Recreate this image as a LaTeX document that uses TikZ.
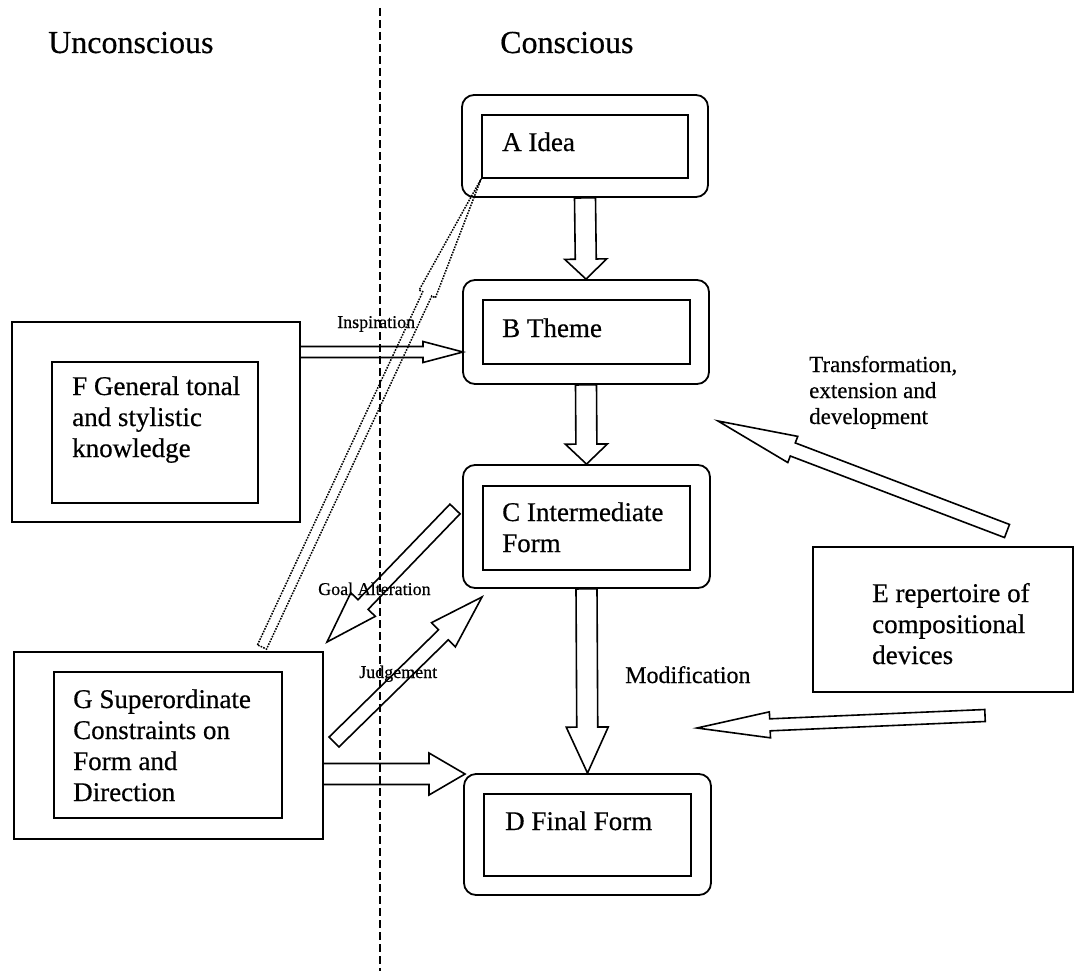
\documentclass[tikz,border=0pt]{standalone}
\usepackage{fontspec}
\setmainfont{Liberation Serif}[FakeBold=0.5]
\usetikzlibrary{calc}
\tikzset{
  outerbox/.style={draw, line width=1.8pt, rounded corners=12pt, inner sep=0pt},
  innerbox/.style={draw, line width=1.8pt, inner sep=0pt},
  plainbox/.style={draw, line width=1.6pt, inner sep=0pt},
  boxtext/.style={anchor=base west, inner sep=0pt, align=left, font=\fontsize{27}{31}\selectfont},
  heading/.style={anchor=base west, inner sep=0pt, font=\fontsize{32}{36}\selectfont},
  smalllabel/.style={anchor=base west, inner sep=0pt, font=\fontsize{18}{20}\selectfont},
  midlabel/.style={anchor=base west, inner sep=0pt, align=left, font=\fontsize{24}{26}\selectfont},
  blockarrow/.style={draw, line width=1.6pt, line join=miter},
  dottedarrow/.style={draw, line width=1.5pt, dash pattern=on 1.6pt off 1.2pt},
  divider/.style={draw, line width=1.4pt, dash pattern=on 8pt off 4pt}
}
% #1 style, #2 tail, #3 tip, #4 shaft half width, #5 head half width, #6 head length
\newcommand{\barrow}[6][blockarrow]{%
  \coordinate (ba-t) at (#2);
  \coordinate (ba-p) at (#3);
  \coordinate (ba-h) at ($(ba-p)!#6!(ba-t)$);
  \draw[#1] ($(ba-t)!#4!90:(ba-p)$) -- ($(ba-h)!#4!90:(ba-p)$) -- ($(ba-h)!#5!90:(ba-p)$)
    -- (ba-p) -- ($(ba-h)!#5!-90:(ba-p)$) -- ($(ba-h)!#4!-90:(ba-p)$)
    -- ($(ba-t)!#4!-90:(ba-p)$) -- cycle;
}
\begin{document}
\begin{tikzpicture}[x=1pt, y=-1pt]
\useasboundingbox (0,0) rectangle (1075,971);

% divider
\coordinate (divtop) at (380,8);
\coordinate (divbot) at (380,971);
\draw[divider] (divtop) -- (divbot);

% headings
\node[heading] (unc) at (48,53) {Unconscious};
\node[heading] (con) at (500,53) {Conscious};

% conscious boxes
\node[outerbox, minimum width=246pt, minimum height=102pt] (A) at (585,146) {};
\node[innerbox, minimum width=206pt, minimum height=63pt] (Ain) at (585,146.5) {};
\node[boxtext] (At) at (502,151) {A Idea};

\node[outerbox, minimum width=246pt, minimum height=104pt] (B) at (586,332) {};
\node[innerbox, minimum width=207pt, minimum height=64pt] (Bin) at (586.5,332) {};
\node[boxtext] (Bt) at (502,337) {B Theme};

\node[outerbox, minimum width=247pt, minimum height=123pt] (C) at (586.5,526.5) {};
\node[innerbox, minimum width=207pt, minimum height=84pt] (Cin) at (586.5,528) {};
\node[boxtext] (Ct) at (502,552) {C Intermediate\\Form};

\node[outerbox, minimum width=247pt, minimum height=121pt] (D) at (587.5,834.5) {};
\node[innerbox, minimum width=207pt, minimum height=82pt] (Din) at (587.5,835) {};
\node[boxtext] (Dt) at (505,830) {D Final Form};

% E
\node[plainbox, minimum width=260pt, minimum height=145pt] (E) at (943,619.5) {};
\node[boxtext] (Et) at (872,664) {E repertoire of\\compositional\\devices};

% F
\node[plainbox, minimum width=288pt, minimum height=200pt] (F) at (156,422) {};
\node[innerbox, minimum width=206pt, minimum height=141pt] (Fin) at (155,432.5) {};
\node[boxtext] (Ft) at (72,457) {F General tonal\\and stylistic\\knowledge};

% G
\node[plainbox, minimum width=309pt, minimum height=187pt] (G) at (168.5,745.5) {};
\node[innerbox, minimum width=228pt, minimum height=146pt] (Gin) at (168,745) {};
\node[boxtext] (Gt) at (73,801) {G Superordinate\\Constraints on\\Form and\\Direction};

% free ends of connectors
\coordinate (fbS) at (300,352);
\coordinate (fbE) at (463,352);
\coordinate (gdS) at (323,774);
\coordinate (gdE) at (465,774);
\coordinate (gaS) at (262,647);
\coordinate (goalS) at (455,509);
\coordinate (goalE) at (327,642);
\coordinate (judS) at (334,742);
\coordinate (judE) at (482,597);
\coordinate (trS) at (1007,531);
\coordinate (trE) at (718,421);
\coordinate (moS) at (985,715.5);
\coordinate (moE) at (697,728);

% arrows
\barrow{A.south}{B.north}{10.5pt}{21pt}{20pt}
\barrow{B.south}{C.north}{10.5pt}{21pt}{20pt}
\barrow{C.south}{D.north}{10.5pt}{21pt}{46pt}
\barrow{fbS}{fbE}{5.5pt}{10.5pt}{40pt}
\barrow{gdS}{gdE}{10.5pt}{21pt}{36pt}
\barrow[dottedarrow]{gaS}{Ain.south west}{5pt}{9pt}{127pt}
\barrow{goalS}{goalE}{7pt}{17pt}{52pt}
\barrow{judS}{judE}{7pt}{17pt}{54pt}
\barrow{trS}{trE}{7pt}{14pt}{80pt}
\barrow{moS}{moE}{6pt}{13pt}{73pt}

% labels (drawn over the arrows)
\node[smalllabel] (insp) at (337,328) {Inspiration};
\node[smalllabel] (goal) at (318,595) {Goal Alteration};
\node[smalllabel] (judg) at (359,678) {Judgement};
\node[midlabel] (modi) at (625,683) {Modification};
\node[midlabel, font=\fontsize{23}{26}\selectfont] (trans) at (809,424) {Transformation,\\extension and\\development};
\end{tikzpicture}
\end{document}
